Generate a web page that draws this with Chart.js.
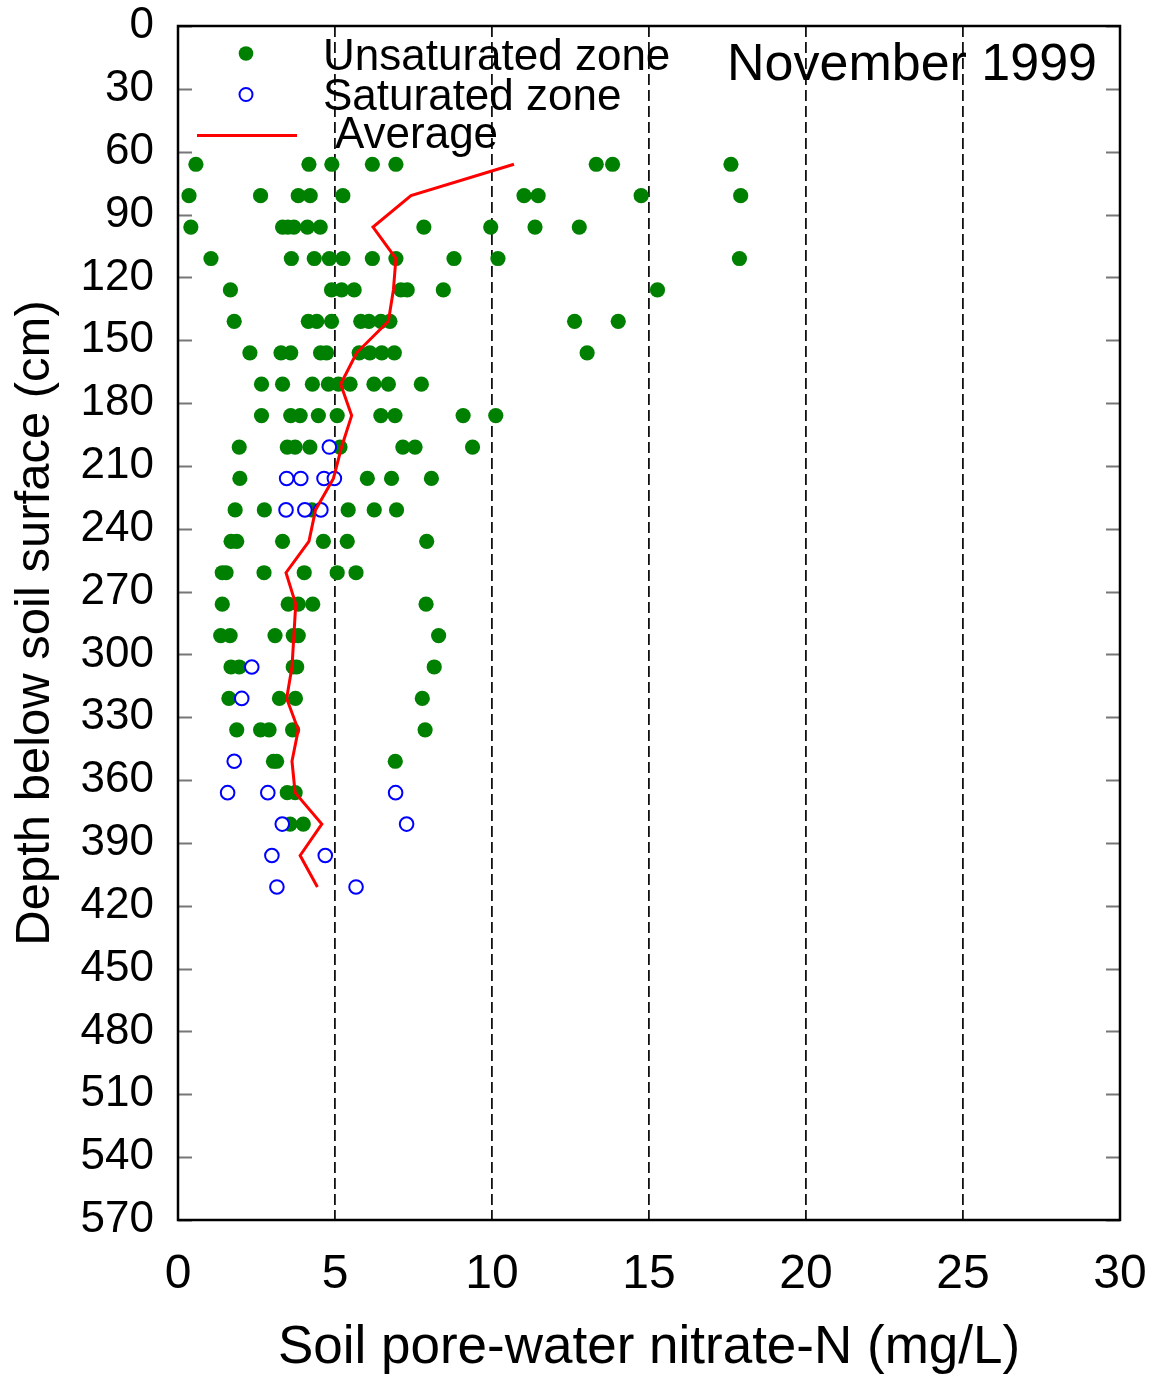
<!DOCTYPE html>
<html>
<head>
<meta charset="utf-8">
<script src="https://cdn.jsdelivr.net/npm/chart.js@4.4.1/dist/chart.umd.min.js"></script>
<style>
html,body{margin:0;padding:0;background:#fff;}
#wrap{width:1154px;height:1382px;position:relative;}
</style>
</head>
<body>
<div id="wrap"><canvas id="c" width="1154" height="1382"></canvas></div>
<script>
// ---- Data ----
const depths = [66,81,96,111,126,141,156,171,186,201,216,231,246,261,276,291,306,321,336,351,366,381,396,411];

const unsaturatedByDepth = [
  [0.57,4.17,4.9,6.19,6.94,13.32,13.84,17.61],
  [0.35,2.63,3.83,4.21,5.25,11.02,11.47,14.75,17.92],
  [0.41,3.33,3.5,3.69,4.12,4.53,7.83,9.96,11.37,12.78],
  [1.05,3.61,4.34,4.82,5.25,6.19,6.94,8.79,10.19,17.88],
  [1.67,4.89,5.21,5.61,7.1,7.3,8.45,15.27],
  [1.79,4.15,4.42,4.89,5.82,6.08,6.46,6.75,12.63,14.02],
  [2.29,3.28,3.59,4.54,4.73,5.77,6.11,6.49,6.89,13.03],
  [2.66,3.33,4.28,4.79,5.11,5.48,6.24,6.7,7.75],
  [2.66,3.59,3.89,4.47,5.07,6.46,6.91,9.08,10.12],
  [1.95,3.48,3.73,4.2,5.16,7.16,7.55,9.38],
  [1.97,6.03,6.8,8.07],
  [1.82,2.75,4.26,5.42,6.25,6.96],
  [1.69,1.87,3.33,4.63,5.39,7.92],
  [1.41,1.53,2.74,4.02,5.07,5.67],
  [1.41,3.51,3.83,4.29,7.9],
  [1.36,1.66,3.09,3.67,3.83,8.3],
  [1.69,1.95,3.67,3.78,8.16],
  [1.62,3.23,3.74,7.78],
  [1.87,2.63,2.9,3.65,7.87],
  [3.04,3.14,6.92],
  [3.48,3.73],
  [3.57,3.99],
  [],
  []
];

const saturatedByDepth = [
  [],[],[],[],[],[],[],[],[],
  [4.82],
  [3.46,3.91,4.65,4.98],
  [3.44,4.04,4.55],
  [],[],[],[],
  [2.35],
  [2.03],
  [],
  [1.79],
  [1.58,2.86,6.93],
  [3.32,7.28],
  [2.99,4.69],
  [3.15,5.67]
];

const averageValues = [10.7,7.42,6.21,6.94,6.86,6.7,5.69,5.18,5.53,5.21,4.95,4.38,4.17,3.44,3.75,3.69,3.63,3.46,3.83,3.63,3.73,4.58,3.89,4.44];

const xTicks = [0,5,10,15,20,25,30];
const yTicks = [0,30,60,90,120,150,180,210,240,270,300,330,360,390,420,450,480,510,540,570];

const seriesNames = ['Unsaturated zone','Saturated zone','Average'];
const panelTitle = 'November 1999';
const xTitle = 'Soil pore-water nitrate-N (mg/L)';
const yTitle = 'Depth below soil surface (cm)';

// ---- Build datasets ----
function toPoints(byDepth){
  const pts = [];
  byDepth.forEach((vals,i)=>vals.forEach(v=>pts.push({x:v,y:depths[i]})));
  return pts;
}
const unsatPts = toPoints(unsaturatedByDepth);
const satPts = toPoints(saturatedByDepth);
const avgPts = averageValues.map((v,i)=>({x:v,y:depths[i]}));

const FONT = "'Liberation Sans', Arial, sans-serif";

const decor = {
  id:'decor',
  afterDatasetsDraw(chart){
    const {ctx, chartArea:a, scales:{x,y}} = chart;
    ctx.save();
    // inward ticks on y (left and right)
    ctx.strokeStyle = '#777';
    ctx.lineWidth = 2;
    yTicks.forEach(t=>{
      const py = Math.round(y.getPixelForValue(t))+0.5;
      ctx.beginPath();
      ctx.moveTo(a.left, py); ctx.lineTo(a.left+14, py);
      ctx.moveTo(a.right, py); ctx.lineTo(a.right-14, py);
      ctx.stroke();
    });
    // frame
    ctx.strokeStyle = '#000';
    ctx.lineWidth = 2.5;
    ctx.strokeRect(a.left, a.top, a.right-a.left, a.bottom-a.top);
    // legend
    ctx.fillStyle = '#008000';
    ctx.beginPath(); ctx.arc(246,53.5,7.3,0,Math.PI*2); ctx.fill();
    ctx.strokeStyle = '#0000ff'; ctx.lineWidth = 2;
    ctx.beginPath(); ctx.arc(246,94.5,6.5,0,Math.PI*2); ctx.stroke();
    ctx.strokeStyle = '#ff0000'; ctx.lineWidth = 3;
    ctx.beginPath(); ctx.moveTo(197,135.5); ctx.lineTo(297,135.5); ctx.stroke();
    ctx.fillStyle = '#000';
    ctx.textBaseline = 'alphabetic';
    ctx.textAlign = 'left';
    ctx.font = "44px " + FONT;
    ctx.fillText(seriesNames[0], 323, 70);
    ctx.fillText(seriesNames[1], 323, 110);
    ctx.fillText(seriesNames[2], 335, 148);
    ctx.font = "52px " + FONT;
    ctx.fillText(panelTitle, 727, 80);
    ctx.restore();
  }
};

new Chart(document.getElementById('c'), {
  type:'scatter',
  data:{
    datasets:[
      {label:seriesNames[0], data:unsatPts, order:3, pointRadius:7.6, pointHoverRadius:7.6,
       backgroundColor:'#008000', borderColor:'#008000', borderWidth:0},
      {label:seriesNames[1], data:satPts, order:2, pointRadius:6.8, pointHoverRadius:6.8,
       backgroundColor:'#ffffff', borderColor:'#0000ff', borderWidth:2},
      {label:seriesNames[2], data:avgPts, order:1, showLine:true, pointRadius:0,
       borderColor:'#ff0000', borderWidth:3, fill:false, tension:0}
    ]
  },
  options:{
    responsive:false,
    animation:false,
    events:[],
    layout:{padding:{top:26,right:34,left:0,bottom:0}},
    plugins:{legend:{display:false}, tooltip:{enabled:false}},
    scales:{
      x:{
        type:'linear', min:0, max:30,
        afterBuildTicks(s){ s.ticks = xTicks.map(v=>({value:v})); },
        afterFit(s){ s.height = 162; s.paddingLeft = 0; s.paddingRight = 0; },
        ticks:{ font:{family:FONT, size:48}, color:'#000', padding:26, maxRotation:0, autoSkip:false },
        grid:{ drawTicks:false, lineWidth:1.8,
               color:(c)=> (c.tick && (c.tick.value===0 || c.tick.value===30)) ? 'rgba(0,0,0,0)' : '#111' },
        border:{ display:false, dash:[11,5] },
        title:{ display:true, text:xTitle, color:'#000', font:{family:FONT, size:53}, padding:{top:0,bottom:2} }
      },
      y:{
        type:'linear', min:0, max:570, reverse:true,
        afterBuildTicks(s){ s.ticks = yTicks.map(v=>({value:v})); },
        afterFit(s){ s.width = 178; s.paddingTop = 0; s.paddingBottom = 0; },
        ticks:{ font:{family:FONT, size:44}, color:'#000', padding:24, autoSkip:false },
        grid:{ display:false, drawTicks:false },
        border:{ display:false },
        title:{ display:true, text:yTitle, color:'#000', font:{family:FONT, size:49}, padding:{top:6,bottom:0} }
      }
    }
  },
  plugins:[decor]
});
</script>
</body>
</html>
